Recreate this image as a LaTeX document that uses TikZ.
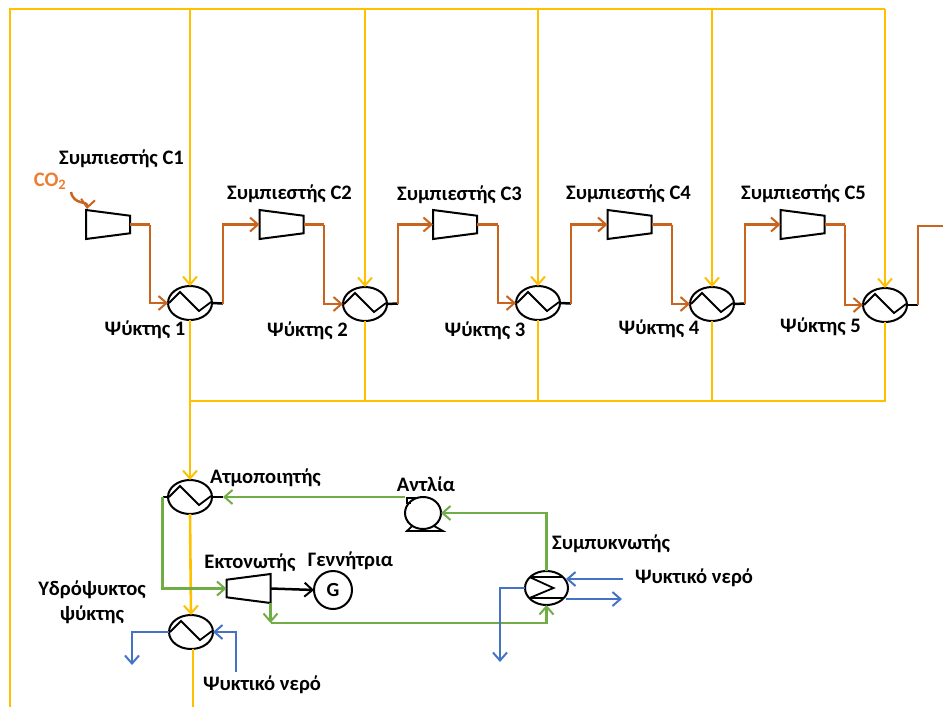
\documentclass[tikz,border=0pt]{standalone}
\usepackage{fontspec}
\setmainfont{Carlito}
\usetikzlibrary{positioning,shapes.geometric,arrows.meta}
\definecolor{steamc}{HTML}{FFC000}
\definecolor{gasc}{HTML}{C9641F}
\definecolor{orcc}{HTML}{70AD47}
\definecolor{waterc}{HTML}{4472C4}
\definecolor{coc}{HTML}{ED7D31}
\tikzset{
  >={Straight Barb[length=8pt,width=14pt,line width=2pt]},
  lbl/.style={font=\fontsize{20.6}{22}\selectfont\bfseries,inner sep=0pt},
  steam/.style={draw=steamc,line width=2.6pt},
  gas/.style={draw=gasc,line width=2.5pt},
  orc/.style={draw=orcc,line width=2.5pt},
  water/.style={draw=waterc,line width=2.5pt},
  blk/.style={draw=black,line width=2.5pt},
  cooler/.style={ellipse,draw,line width=2pt,minimum width=44pt,minimum height=34pt,inner sep=0pt,outer sep=0pt,
    path picture={\draw[line width=1.8pt] (path picture bounding box.center) ++(-21,0) -- ++(11,-11) -- ++(19,19) -- ++(12,-9);}},
  condenser/.style={ellipse,draw,line width=2pt,minimum width=43pt,minimum height=34pt,inner sep=0pt,outer sep=0pt,
    path picture={\draw[line width=1.8pt] (path picture bounding box.center) ++(-22,-11) -- ++(44,0) ++(0,21) -- ++(-44,0) ++(5,-21) -- ++(24,11) -- ++(-24,10);}},
  comp/.style={trapezium,draw,line width=2pt,trapezium stretches=true,trapezium left angle=72,trapezium right angle=72,
    minimum width=29pt,minimum height=44pt,inner sep=1pt,outer sep=0pt,rotate=-90},
}
\begin{document}
\begin{tikzpicture}[x=1pt,y=-1pt]
  \useasboundingbox (0,0) rectangle (943,707);
  % compressors and coolers
  \foreach \i/\x in {1/108,2/281.5,3/455,4/629.5,5/802.5} \node[comp] (c\i) at (\x,224.5) {};
  \foreach \i/\x/\y in {1/190/303,2/365/304,3/538/303,4/712/304,5/885/305} \node[cooler] (h\i) at (\x,\y) {};
  \node[cooler] (atm) at (190,497) {};
  \node[cooler] (wc) at (191,632) {};
  \node[condenser] (cond) at (546.5,588) {};
  \node[comp,rotate=180] (exp) at (248.5,588.5) {};
  \node[circle,draw,line width=2pt,minimum size=38pt,inner sep=0pt,outer sep=0pt,font=\fontsize{20}{22}\selectfont\bfseries] (gen) at (333,590) {G};
  \node[ellipse,draw,line width=2pt,minimum width=36pt,minimum height=32pt,inner sep=0pt,outer sep=0pt] (pump) at (423,513) {};
  \draw[line width=1.8pt] (pump.115) -- ++(-9,0) -- ++(0,5) -- ++(4,0);
  \draw[line width=1.8pt] (pump.230) -- (407,531) -- (443,531) -- (pump.310);

  % labels
  \foreach \i/\x/\y in {1/121.5/159,2/289.5/194,3/459.5/195,4/628.5/194,5/803.5/194}
    \node[lbl] (lc\i) at (\x,\y) {Συμπιεστής C\i};
  \foreach \i/\x/\y in {1/145/330,2/307.5/331,3/485/331,4/659/329,5/820.5/327}
    \node[lbl] (lh\i) at (\x,\y) {Ψύκτης \i};
  \node[lbl] (latm) at (265.5,478) {Ατμοποιητής};
  \node[lbl] (lpump) at (426,484) {Αντλία};
  \node[lbl] (lcond) at (611,544) {Συμπυκνωτής};
  \node[lbl] (lexp) at (250,563) {Εκτονωτής};
  \node[lbl] (lgen) at (350.5,561) {Γεννήτρια};
  \node[lbl] (lw1) at (694,578) {Ψυκτικό νερό};
  \node[lbl] (lw2) at (262,685) {Ψυκτικό νερό};
  \node[lbl,align=center,font=\fontsize{20.6}{25}\selectfont\bfseries] (lwc) at (92,602) {Υδρόψυκτος\\ψύκτης};
  \node[lbl,text=coc] (co) at (50,181) {CO\textsubscript{2}};

  % steam rails
  \coordinate (tl) at (10,9);
  \coordinate (bl) at (10,707);
  \coordinate (rail) at (190,401);
  \draw[steam] (bl) -- (tl) -- (h5.north |- tl);
  \draw[steam] (rail) -- (h5.south |- rail) -- (h5.south);
  \foreach \i in {1,...,5} \draw[steam,->] (h\i.north |- tl) -- (h\i.north);
  \foreach \i in {1,...,4} \draw[steam] (h\i.south) -- (h\i.south |- rail);
  \draw[steam,->] (h1.south) -- (atm.north);
  \draw[steam,->] (atm.south) -- (wc.north);
  \coordinate (wcout) at (193,707);
  \draw[steam] (wc.south -| wcout) -- (wcout);

  % gas line
  \coordinate (coend) at (71,192);
  \coordinate (c1in) at (87,209);
  \draw[gas,->] (coend) .. controls (74,206) and (88,200) .. (c1in);
  \foreach \i/\j/\ox/\hx in {1/2/150/223,2/3/324/398,3/4/498/571,4/5/672/745} {
    \draw[gas] (c\i.north) -- (\ox,224.5);
    \draw[gas,->] (\ox,224.5) |- (h\i.west);
    \draw[blk] (h\i.east) -- (\hx,303.5);
    \draw[gas,->] (\hx,303.5) |- (c\j.south);
  }
  \draw[gas] (c5.north) -- (845,224.5);
  \draw[gas,->] (845,224.5) |- (h5.west);
  \draw[blk] (h5.east) -- (918,305);
  \coordinate (gasout) at (943,226);
  \draw[gas] (918,305) |- (gasout);

  % power cycle
  \coordinate (atmout) at (162.5,497);
  \coordinate (atmin) at (223,497);
  \coordinate (pumpout) at (405,497);
  \coordinate (expout) at (270.5,603);
  \coordinate (expdown) at (270.5,623);
  \draw[blk] (atm.west) -- (atmout);
  \draw[blk] (atm.east) -- (atmin);
  \draw[orc,->] (pumpout) -- (atmin);
  \draw[orc,->] (atmout) |- (exp.north);
  \draw[orc,->] (cond.north) |- (pump.east);
  \draw[orc,->] (expout) -- (expdown);
  \draw[orc,->] (expdown) -| (cond.south);
  \draw[blk,->] (exp.south) -- (gen.west);

  % cooling water
  \coordinate (cin) at (623,579);
  \coordinate (cout) at (622,599);
  \coordinate (cdown) at (500,662);
  \coordinate (win) at (236,672);
  \coordinate (wdown) at (132,665);
  \draw[water,->] (cin) -- (566,579);
  \draw[water,->] (566,599) -- (cout);
  \draw[water,->] (cond.west) -| (cdown);
  \draw[water,->] (win) |- (wc.east);
  \draw[water,->] (wc.west) -| (wdown);
\end{tikzpicture}
\end{document}
